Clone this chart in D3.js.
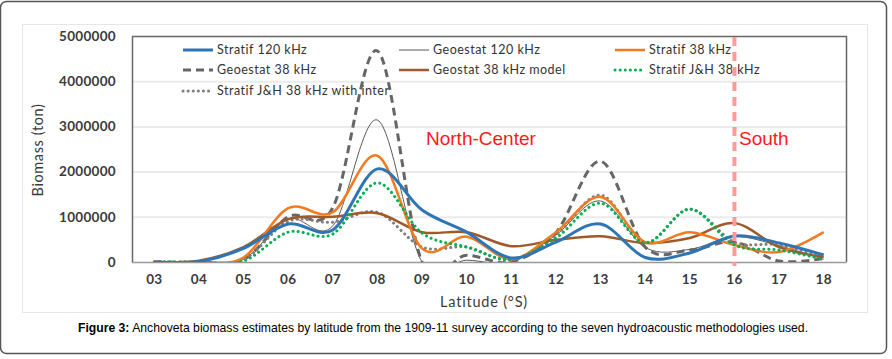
<!DOCTYPE html>
<html>
<head>
<meta charset="utf-8">
<script src="https://cdn.jsdelivr.net/npm/d3@7"></script>
<style>
  body { margin: 0; background: #fff; }
  svg { display: block; }
</style>
</head>
<body>
<script>
// latitude categories (deg S)
var latitudes = ["03","04","05","06","07","08","09","10","11","12","13","14","15","16","17","18"];

// biomass per method, tons
var stratif120   = [0, 10000, 300000, 840000, 710000, 2060000, 1150000, 660000, 90000, 440000, 840000, 100000, 200000, 575000, 420000, 155000];
var geoestat120  = [0, 0, 60000, 950000, 800000, 3140000, 0, 40000, 0, 600000, 1350000, 320000, 280000, 560000, 360000, 60000];
var stratif38    = [0, 0, 100000, 1190000, 1100000, 2350000, 300000, 560000, 60000, 660000, 1440000, 440000, 660000, 375000, 220000, 660000];
var geoestat38   = [0, 0, 50000, 1000000, 1200000, 4670000, 0, 150000, 0, 650000, 2230000, 330000, 265000, 440000, 20000, 80000];
var geostatModel = [0, 30000, 330000, 950000, 1000000, 1080000, 660000, 660000, 350000, 490000, 570000, 420000, 530000, 860000, 330000, 110000];
var stratifJH    = [0, 0, 20000, 660000, 620000, 1750000, 640000, 330000, 60000, 530000, 1300000, 420000, 1170000, 375000, 265000, 60000];
var stratifJHint = [0, 0, 50000, 900000, 880000, 1100000, 330000, 330000, 40000, 600000, 1480000, 440000, 1170000, 440000, 375000, 80000];

var yTicks = [0, 1000000, 2000000, 3000000, 4000000, 5000000];

var series = [
  {name: "Stratif 120 kHz", values: stratif120, color: "#2e75b6", width: 3, dash: null, col: 0, row: 0},
  {name: "Geoestat 120 kHz", values: geoestat120, color: "#595959", width: 1, dash: null, col: 1, row: 0},
  {name: "Stratif 38 kHz", values: stratif38, color: "#f47a20", width: 2.5, dash: null, col: 2, row: 0},
  {name: "Geoestat 38 kHz", values: geoestat38, color: "#666666", width: 3, dash: "8,5", col: 0, row: 1},
  {name: "Geostat 38 kHz model", values: geostatModel, color: "#9e5a2a", width: 2.5, dash: null, col: 1, row: 1},
  {name: "Stratif J&H 38 kHz", values: stratifJH, color: "#00b050", width: 3, dash: "0.1,5", cap: "round", col: 2, row: 1},
  {name: "Stratif J&H 38 kHz with inter", values: stratifJHint, color: "#7f7f7f", width: 3, dash: "0.1,5", cap: "round", col: 0, row: 2}
];
// draw order (back to front)
var drawOrder = [1, 3, 6, 4, 2, 5, 0];

var width = 892, height = 359;
var plot = {left: 132, right: 846, top: 36, bottom: 262};
var font = "Lato, 'Open Sans', sans-serif";

var svg = d3.select("body").append("svg")
    .attr("width", width)
    .attr("height", height);

// outer frame
svg.append("rect")
    .attr("x", 0.5).attr("y", 1.5)
    .attr("width", 886).attr("height", 352)
    .attr("rx", 6)
    .attr("fill", "#fff")
    .attr("stroke", "#555")
    .attr("stroke-width", 1.5);

// chart area
svg.append("rect")
    .attr("x", 22.5).attr("y", 24.5)
    .attr("width", 845).attr("height", 288)
    .attr("fill", "#fff")
    .attr("stroke", "#e6e6e6");

var x = d3.scaleBand().domain(latitudes).range([plot.left, plot.right]);
var y = d3.scaleLinear().domain([0, 5000000]).range([plot.bottom, plot.top]);
var cx = function(d) { return x(d) + x.bandwidth() / 2; };

// gridlines
svg.append("g")
    .selectAll("line")
    .data(yTicks.slice(1, -1))
    .enter().append("line")
        .attr("x1", plot.left).attr("x2", plot.right)
        .attr("y1", function(d) { return y(d) + 0.5; })
        .attr("y2", function(d) { return y(d) + 0.5; })
        .attr("stroke", "#ebebeb")
        .attr("stroke-width", 2);

// plot border
svg.append("path")
    .attr("d", "M" + plot.left + "," + (plot.top + 0.5) + "H" + (plot.right + 0.5) + "V" + plot.bottom)
    .attr("fill", "none")
    .attr("stroke", "#666")
    .attr("stroke-width", 1.5);

// y axis
var yAxis = svg.append("g")
    .attr("transform", "translate(" + plot.left + ",0)")
    .call(d3.axisLeft(y).tickValues(yTicks).tickFormat(d3.format("d")).tickSize(0).tickPadding(16));
yAxis.select(".domain").attr("stroke", "#666").attr("stroke-width", 1.5);
yAxis.selectAll("text")
    .attr("font-family", font)
    .attr("font-size", 13.5)
    .attr("font-weight", "bold")
    .attr("letter-spacing", 0.3)
    .attr("fill", "#3a3a3a");

// x axis
var xAxis = svg.append("g")
    .attr("transform", "translate(0," + plot.bottom + ")")
    .call(d3.axisBottom(x).tickSize(0).tickPadding(12));
xAxis.select(".domain").attr("stroke", "#999").attr("stroke-width", 1.5);
xAxis.selectAll("text")
    .attr("font-family", font)
    .attr("font-size", 13.5)
    .attr("font-weight", "bold")
    .attr("letter-spacing", 0.3)
    .attr("fill", "#3a3a3a");

// axis titles
svg.append("text")
    .attr("x", 484).attr("y", 307)
    .attr("text-anchor", "middle")
    .attr("font-family", font)
    .attr("font-size", 14.5)
    .attr("letter-spacing", 0.8)
    .attr("fill", "#3a3a3a")
    .text("Latitude (°S)");

svg.append("text")
    .attr("transform", "translate(43,150) rotate(-90)")
    .attr("text-anchor", "middle")
    .attr("font-family", font)
    .attr("font-size", 14.5)
    .attr("letter-spacing", 0.6)
    .attr("fill", "#3a3a3a")
    .text("Biomass (ton)");

// legend (drawn beneath the lines, as in the original)
var legendCols = [183, 399, 615];
var legendRows = [50, 70, 91];
var legend = svg.append("g");
series.forEach(function(s) {
    var lx = legendCols[s.col], ly = legendRows[s.row];
    legend.append("line")
        .attr("x1", lx).attr("x2", lx + 30)
        .attr("y1", ly).attr("y2", ly)
        .attr("stroke", s.color)
        .attr("stroke-width", s.width)
        .attr("stroke-dasharray", s.dash)
        .attr("stroke-linecap", s.cap || "butt");
    legend.append("text")
        .attr("x", lx + 34).attr("y", ly + 4)
        .attr("font-family", font)
        .attr("font-size", 12.5)
        .attr("letter-spacing", 0.5)
        .attr("fill", "#333")
        .text(s.name);
});

// clip lines to plot area
svg.append("clipPath").attr("id", "clip")
    .append("rect")
        .attr("x", plot.left).attr("y", plot.top)
        .attr("width", plot.right - plot.left)
        .attr("height", plot.bottom - plot.top);

var line = d3.line()
    .x(function(d, i) { return cx(latitudes[i]); })
    .y(function(d) { return y(d); })
    .curve(d3.curveCatmullRom.alpha(0));

var lines = svg.append("g").attr("clip-path", "url(#clip)");
drawOrder.forEach(function(k) {
    var s = series[k];
    lines.append("path")
        .datum(s.values)
        .attr("fill", "none")
        .attr("stroke", s.color)
        .attr("stroke-width", s.width)
        .attr("stroke-dasharray", s.dash)
        .attr("stroke-linecap", s.cap || "butt")
        .attr("d", line);
});

// region separator at 16 S
svg.append("line")
    .attr("x1", cx("16")).attr("x2", cx("16"))
    .attr("y1", 37).attr("y2", 266)
    .attr("stroke", "#ff9a9a")
    .attr("stroke-width", 4)
    .attr("stroke-dasharray", "9,6");

svg.append("text")
    .attr("x", 426).attr("y", 145)
    .attr("font-family", "'Liberation Sans', Arial, sans-serif")
    .attr("font-size", 19)
    .attr("fill", "#ff1a1a")
    .text("North-Center");

svg.append("text")
    .attr("x", 739).attr("y", 145)
    .attr("font-family", "'Liberation Sans', Arial, sans-serif")
    .attr("font-size", 19)
    .attr("fill", "#ff1a1a")
    .text("South");

// caption
var cap = svg.append("text")
    .attr("x", 443).attr("y", 332)
    .attr("text-anchor", "middle")
    .attr("font-family", "'Liberation Sans', Arial, sans-serif")
    .attr("font-size", 12.2)
    .attr("fill", "#000");
cap.append("tspan").attr("font-weight", "bold").text("Figure 3:");
cap.append("tspan").text(" Anchoveta biomass estimates by latitude from the 1909-11 survey according to the seven hydroacoustic methodologies used.");
</script>
</body>
</html>
